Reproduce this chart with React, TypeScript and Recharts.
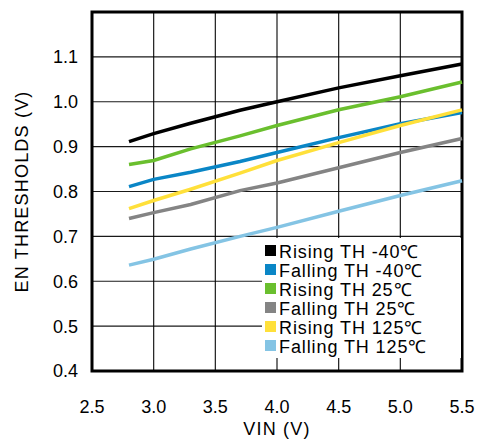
import { LineChart, Line, XAxis, YAxis, CartesianGrid, Legend, ReferenceArea } from 'recharts';

const vin = [2.8, 3.0, 3.3, 3.7, 4.0, 4.5, 5.0, 5.5];

const risingM40 = [0.911, 0.929, 0.952, 0.981, 1.0, 1.031, 1.058, 1.084];
const fallingM40 = [0.811, 0.827, 0.843, 0.867, 0.887, 0.92, 0.951, 0.976];
const rising25 = [0.86, 0.869, 0.895, 0.924, 0.947, 0.982, 1.011, 1.044];
const falling25 = [0.74, 0.753, 0.771, 0.802, 0.819, 0.853, 0.887, 0.918];
const rising125 = [0.762, 0.78, 0.805, 0.841, 0.869, 0.909, 0.947, 0.982];
const falling125 = [0.636, 0.649, 0.672, 0.7, 0.72, 0.756, 0.791, 0.824];

const xTicks = [2.5, 3.0, 3.5, 4.0, 4.5, 5.0, 5.5];
const yTicks = [0.4, 0.5, 0.6, 0.7, 0.8, 0.9, 1.0, 1.1];

const series = [
  { key: 'rm40', name: 'Rising TH -40℃', color: '#000000', values: risingM40 },
  { key: 'fm40', name: 'Falling TH -40℃', color: '#0a86c6', values: fallingM40 },
  { key: 'r25', name: 'Rising TH 25℃', color: '#6abf2e', values: rising25 },
  { key: 'f25', name: 'Falling TH 25℃', color: '#848484', values: falling25 },
  { key: 'r125', name: 'Rising TH 125℃', color: '#ffe03a', values: rising125 },
  { key: 'f125', name: 'Falling TH 125℃', color: '#84c4e4', values: falling125 },
];

const data = vin.map((v, i) => {
  const row: any = { vin: v };
  series.forEach((s) => {
    row[s.key] = s.values[i];
  });
  return row;
});

const FONT = '"Liberation Sans", Arial, sans-serif';

const CustomLegend = () => (
  <div style={{ background: '#fff', paddingTop: 3, paddingLeft: 3, boxSizing: 'border-box', height: '100%' }}>
    {series.map((s) => (
      <div
        key={s.key}
        style={{ display: 'flex', alignItems: 'center', height: 19, fontSize: 18, letterSpacing: 0.9, color: '#000', fontFamily: FONT, whiteSpace: 'nowrap' }}
      >
        <div style={{ width: 11, height: 11, background: s.color, marginRight: 3, flexShrink: 0 }} />
        <span>{s.name}</span>
      </div>
    ))}
  </div>
);

const YLabel = ({ viewBox }: any) => {
  const x = viewBox.x + 22;
  const y = viewBox.y + viewBox.height / 2;
  return (
    <text
      x={x}
      y={y}
      transform={`rotate(-90 ${x} ${y})`}
      textAnchor="middle"
      dominantBaseline="central"
      fontSize={18}
      letterSpacing={1.2}
      fill="#000"
      fontFamily={FONT}
    >
      EN THRESHOLDS (V)
    </text>
  );
};

export default function App() {
  return (
    <div style={{ position: 'absolute', left: 0, top: 0, background: '#fff' }}>
      <LineChart
        width={478}
        height={443}
        data={data}
        margin={{ top: 12, right: 16, bottom: 32, left: 0 }}
        style={{ fontFamily: FONT }}
      >
        <CartesianGrid stroke="#000" strokeWidth={1.2} strokeOpacity={0.9} />
        <XAxis
          dataKey="vin"
          type="number"
          domain={[2.5, 5.5]}
          ticks={xTicks}
          tickFormatter={(v: number) => v.toFixed(1)}
          height={40}
          tickLine={false}
          axisLine={false}
          tickSize={0}
          tickMargin={29}
          tick={{ fill: '#000', fontSize: 18 }}
          label={{ value: 'VIN (V)', position: 'bottom', offset: 11, fill: '#000', fontSize: 18, letterSpacing: 1.2 }}
        />
        <YAxis
          type="number"
          domain={[0.4, 1.2]}
          ticks={yTicks}
          tickFormatter={(v: number) => v.toFixed(1)}
          width={92}
          tickLine={false}
          axisLine={false}
          tickSize={0}
          tickMargin={14}
          tick={{ fill: '#000', fontSize: 18 }}
          label={{ content: <YLabel /> }}
        />
        {series.map((s) => (
          <Line
            key={s.key}
            dataKey={s.key}
            name={s.name}
            stroke={s.color}
            strokeWidth={3.5}
            dot={false}
            type="linear"
            isAnimationActive={false}
          />
        ))}
        <ReferenceArea x1={2.5} x2={5.5} y1={0.4} y2={1.2} fill="none" stroke="#000" strokeWidth={3} />
        <Legend
          layout="horizontal"
          verticalAlign="middle"
          align="center"
          content={<CustomLegend />}
          wrapperStyle={{ left: 262, top: 238, width: 199, height: 120 }}
        />
      </LineChart>
    </div>
  );
}
